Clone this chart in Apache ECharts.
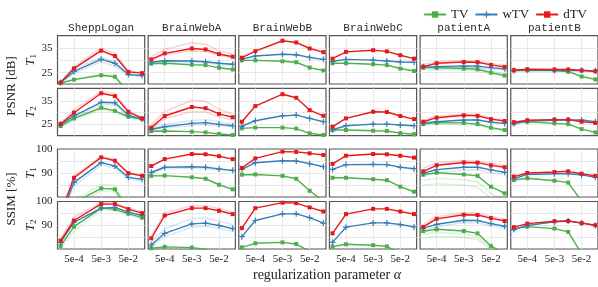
<!DOCTYPE html>
<html><head><meta charset="utf-8">
<script src="https://cdn.jsdelivr.net/npm/echarts@6/dist/echarts.min.js"></script>
<style>html,body{margin:0;padding:0;background:#fff}#c{width:598px;height:287px}</style>
</head><body><div id="c"></div>
<script>
// ---------- data ----------
const datasets = ['SheppLogan', 'BrainWebA', 'BrainWebB', 'BrainWebC', 'patientA', 'patientB'];
const methods = ['TV', 'wTV', 'dTV'];
const alphas = [1.6e-4, 5e-4, 5e-3, 1.6e-2, 5e-2, 1.6e-1];
const xTickAlphas = [5e-4, 5e-3, 5e-2];
const xTickLabels = ['5e-4', '5e-3', '5e-2'];
const xExtentAlphas = [1.23e-4, 0.2];
const psnrGridTicks = [25, 30, 35];
const psnrTickLabels = [25, 35];
const psnrExtent = [20.3, 40.3];
const ssimGridTicks = [85, 90, 95];
const ssimTickLabels = [90, 100];
const ssimExtent = [80, 100];

// PSNR [dB], T1 (one row of 6 values per dataset)
const psnrT1_TV = [
  [20.7, 22.1, 23.9, 23.3, 17.0, 16.0],
  [28.7, 28.9, 28.3, 28.1, 27.0, 26.3],
  [30.1, 30.1, 29.7, 29.3, 27.1, 25.9],
  [28.9, 28.9, 28.5, 28.1, 26.7, 25.7],
  [27.1, 27.0, 26.7, 26.4, 25.0, 23.8],
  [25.9, 26.0, 25.9, 25.4, 23.4, 22.2]];
const psnrT1_wTV = [
  [20.9, 25.5, 30.5, 28.9, 24.2, 23.8],
  [29.3, 29.9, 29.8, 29.5, 28.9, 28.5],
  [30.6, 31.9, 32.6, 32.4, 31.3, 30.5],
  [29.7, 30.5, 30.2, 29.8, 29.4, 29.3],
  [27.4, 27.5, 27.8, 27.7, 27.1, 26.6],
  [25.9, 26.1, 26.0, 25.9, 26.0, 25.7]];
const psnrT1_dTV = [
  [20.9, 26.8, 34.1, 31.9, 25.3, 24.8],
  [30.5, 33.0, 35.0, 34.6, 32.7, 31.6],
  [31.2, 33.9, 38.2, 37.5, 35.0, 33.5],
  [30.8, 33.6, 34.3, 33.8, 32.2, 30.8],
  [27.5, 28.9, 29.4, 29.3, 28.2, 27.4],
  [26.0, 26.4, 26.3, 26.3, 25.9, 25.6]];
// PSNR [dB], T2
const psnrT2_TV = [
  [24.4, 27.6, 32.1, 30.8, 28.3, 27.4],
  [22.2, 22.3, 22.0, 21.7, 21.0, 20.6],
  [23.4, 23.7, 23.7, 23.3, 21.3, 20.6],
  [22.7, 22.7, 22.4, 22.3, 21.4, 20.9],
  [25.2, 25.8, 25.7, 25.2, 23.7, 22.7],
  [25.5, 26.2, 25.5, 25.2, 23.1, 21.7]];
const psnrT2_wTV = [
  [25.1, 28.7, 34.4, 34.2, 29.0, 27.2],
  [23.0, 24.1, 25.5, 25.8, 25.1, 24.5],
  [24.3, 26.6, 28.7, 29.0, 27.6, 26.2],
  [22.8, 24.5, 25.2, 25.2, 24.8, 24.5],
  [25.7, 26.2, 26.9, 26.9, 26.0, 25.5],
  [25.4, 26.5, 26.8, 26.9, 26.9, 26.2]];
const psnrT2_dTV = [
  [25.2, 30.0, 38.2, 37.0, 30.4, 27.6],
  [23.7, 28.6, 32.4, 31.9, 29.5, 28.1],
  [26.2, 32.8, 37.8, 36.3, 31.1, 28.7],
  [24.1, 27.6, 30.4, 30.3, 28.6, 27.3],
  [26.2, 27.9, 28.9, 28.7, 27.3, 26.5],
  [26.0, 26.8, 27.1, 27.1, 26.2, 25.7]];
// SSIM [%], T1
const ssimT1_TV = [
  [70.0, 77.6, 83.6, 83.2, 74.7, 72.0],
  [88.8, 88.9, 88.2, 87.6, 85.1, 83.2],
  [89.3, 89.4, 88.8, 87.6, 82.6, 78.3],
  [88.0, 88.0, 87.4, 87.0, 84.3, 82.2],
  [89.3, 90.1, 89.4, 88.8, 84.3, 81.5],
  [87.1, 87.8, 86.8, 86.0, 78.3, 74.0]];
const ssimT1_wTV = [
  [72.0, 86.1, 94.3, 92.9, 88.2, 87.4],
  [90.3, 92.4, 92.6, 92.4, 91.7, 91.1],
  [91.5, 94.3, 95.1, 95.0, 93.9, 92.6],
  [91.5, 93.5, 93.6, 93.5, 92.4, 91.8],
  [89.9, 91.4, 92.4, 92.4, 91.3, 90.3],
  [87.6, 89.4, 89.7, 89.7, 89.2, 88.2]];
const ssimT1_dTV = [
  [73.0, 88.0, 96.5, 95.1, 89.9, 88.8],
  [92.9, 95.8, 97.9, 97.8, 97.0, 95.8],
  [92.1, 96.1, 98.9, 98.8, 98.2, 97.5],
  [93.8, 97.2, 97.9, 97.8, 97.2, 96.4],
  [90.7, 93.2, 94.4, 94.3, 93.2, 92.4],
  [88.5, 90.0, 90.4, 90.7, 89.7, 88.8]];
// SSIM [%], T2
const ssimT2_TV = [
  [81.3, 89.4, 97.2, 96.8, 94.9, 93.2],
  [80.3, 80.9, 80.6, 79.9, 77.0, 75.0],
  [80.7, 82.4, 82.8, 82.1, 79.0, 77.0],
  [81.0, 82.0, 81.6, 81.1, 78.0, 76.0],
  [87.5, 88.3, 87.6, 86.6, 81.3, 78.0],
  [88.6, 89.4, 88.6, 87.2, 78.0, 74.0]];
const ssimT2_wTV = [
  [82.8, 91.3, 97.2, 97.5, 95.5, 94.1],
  [81.7, 86.6, 90.6, 90.9, 89.9, 88.6],
  [85.2, 92.0, 94.8, 94.8, 93.2, 90.9],
  [82.8, 89.2, 91.0, 91.0, 90.3, 89.3],
  [88.8, 90.4, 92.1, 92.0, 90.7, 89.6],
  [88.2, 89.9, 91.4, 91.8, 91.0, 89.9]];
const ssimT2_dTV = [
  [83.5, 92.0, 99.0, 98.9, 96.8, 95.1],
  [84.5, 94.1, 97.2, 97.2, 96.1, 94.7],
  [88.8, 97.2, 99.5, 99.3, 97.5, 95.8],
  [86.6, 94.7, 96.9, 96.9, 95.8, 94.7],
  [89.3, 92.7, 94.4, 94.3, 93.0, 91.8],
  [89.2, 90.7, 91.7, 91.8, 90.9, 90.0]];

// faint (individual-run) curves, by dataset then method
const psnrT1_faint = {
  SheppLogan: { dTV: [[20.9, 27.5, 35.1, 32.9, 25.8, 25.0]],
                wTV: [[20.6, 24.7, 29.4, 27.7, 24.0, 23.3], [20.9, 26.4, 31.4, 29.6, 24.6, 24.0]],
                TV: [[20.6, 22.3, 24.4, 23.8, 17.0, 16.0]] },
  BrainWebA: { dTV: [[31.6, 34.7, 37.4, 36.7, 34.1, 32.6], [30.0, 32.5, 34.0, 33.8, 32.2, 31.2]],
               wTV: [[29.0, 29.5, 29.3, 29.0, 28.4, 28.0]] },
  patientA: { dTV: [[28.6, 29.5, 30.0, 29.8, 28.8, 27.9]],
              wTV: [[26.9, 27.1, 27.3, 27.2, 26.6, 26.1]],
              TV: [[26.2, 26.3, 26.0, 25.7, 24.3, 23.2], [27.5, 27.6, 27.3, 27.0, 25.6, 24.4]] }
};
const psnrT2_faint = {
  SheppLogan: { dTV: [[25.6, 31.2, 39.0, 37.8, 31.0, 28.0]],
                wTV: [[24.6, 28.0, 33.5, 33.3, 28.5, 26.9]],
                TV: [[23.8, 26.8, 31.4, 30.2, 27.8, 27.0]] },
  BrainWebA: { dTV: [[25.0, 30.5, 35.2, 34.8, 31.5, 29.5], [23.3, 27.5, 30.5, 30.3, 28.3, 27.0]],
               wTV: [[23.5, 25.0, 26.7, 27.0, 26.2, 25.3], [22.7, 23.6, 24.6, 25.0, 24.5, 24.0]] },
  patientA: { dTV: [[26.8, 28.5, 29.4, 29.2, 27.8, 26.9]],
              TV: [[24.6, 25.0, 25.0, 24.6, 23.2, 22.2]] }
};
const ssimT1_faint = {
  SheppLogan: { TV: [[70.0, 78.5, 85.2, 84.8, 75.5, 72.0], [69.0, 76.5, 82.5, 82.0, 73.5, 71.0]],
                wTV: [[71.0, 84.5, 93.3, 92.0, 87.5, 86.8]],
                dTV: [[74.0, 88.8, 97.0, 95.6, 90.3, 89.0]] },
  BrainWebA: { wTV: [[89.8, 91.8, 92.0, 91.8, 91.2, 90.6]] },
  patientA: { dTV: [[92.0, 94.2, 95.2, 95.0, 94.0, 93.0]],
              wTV: [[88.5, 90.2, 91.3, 91.2, 90.2, 89.3]],
              TV: [[87.0, 87.8, 87.2, 86.3, 81.5, 79.0], [85.0, 85.5, 85.0, 84.0, 79.5, 77.0]] }
};
const ssimT2_faint = {
  SheppLogan: { dTV: [[84.5, 93.5, 99.5, 99.3, 97.3, 95.6]],
                TV: [[80.2, 87.5, 96.5, 96.2, 94.3, 92.6]] },
  BrainWebA: { dTV: [[85.5, 95.2, 98.3, 98.2, 97.0, 95.4]],
               wTV: [[83.0, 88.5, 92.8, 93.0, 91.8, 90.2], [81.0, 85.2, 89.2, 89.6, 88.6, 87.4]] },
  patientA: { dTV: [[90.2, 93.6, 95.2, 95.0, 93.8, 92.5]],
              wTV: [[87.8, 89.5, 91.2, 91.0, 89.8, 88.8]],
              TV: [[86.2, 87.0, 86.4, 85.2, 80.5, 78.0], [84.5, 85.3, 85.0, 84.0, 80.0, 78.0]] }
};

// ---------- layout & style ----------
const colors = { TV: '#4daf4a', wTV: '#377eb8', dTV: '#e41a1c' };
const plusPath = 'path://M2,0H3V2H5V3H3V5H2V3H0V2H2Z';
const symbols = { TV: 'rect', wTV: plusPath, dTV: 'rect' };
const symbolSizes = { TV: 4, wTV: 6, dTV: 4 };
const colLeft0 = 57.5, colStep = 90.65, gridW = 87.2;
const rowTop = [35.7, 88.3, 149, 201.5];
const rowH = [48.3, 47.4, 48, 47.5];
const serif = 'Liberation Serif';
const mono = 'Liberation Mono';

const rows = [
  { data: { TV: psnrT1_TV, wTV: psnrT1_wTV, dTV: psnrT1_dTV }, faint: psnrT1_faint, ext: psnrExtent, grid: psnrGridTicks, labels: psnrTickLabels, sub: '1' },
  { data: { TV: psnrT2_TV, wTV: psnrT2_wTV, dTV: psnrT2_dTV }, faint: psnrT2_faint, ext: psnrExtent, grid: psnrGridTicks, labels: psnrTickLabels, sub: '2' },
  { data: { TV: ssimT1_TV, wTV: ssimT1_wTV, dTV: ssimT1_dTV }, faint: ssimT1_faint, ext: ssimExtent, grid: ssimGridTicks, labels: ssimTickLabels, sub: '1' },
  { data: { TV: ssimT2_TV, wTV: ssimT2_wTV, dTV: ssimT2_dTV }, faint: ssimT2_faint, ext: ssimExtent, grid: ssimGridTicks, labels: ssimTickLabels, sub: '2' }
];

const lx = v => Math.log10(v);
const xTickVals = xTickAlphas.map(lx);
function fmtX(v) {
  let best = 0, bd = Infinity;
  xTickVals.forEach((t, i) => { const d = Math.abs(t - v); if (d < bd) { bd = d; best = i; } });
  return xTickLabels[best];
}

const grids = [], xAxes = [], yAxes = [], series = [];
const graphics = [];
rows.forEach((row, r) => {
  datasets.forEach((ds, c) => {
    const k = grids.length;
    const left = colLeft0 + c * colStep;
    grids.push({ left: left, top: rowTop[r], width: gridW, height: rowH[r], show: true,
      borderColor: '#555', borderWidth: 1.2, backgroundColor: 'transparent' });
    xAxes.push({ gridIndex: k, type: 'value', min: lx(xExtentAlphas[0]), max: lx(xExtentAlphas[1]),
      axisLine: { show: false }, axisTick: { show: false, customValues: xTickVals },
      axisLabel: { show: r === 3, customValues: xTickVals, formatter: fmtX, fontFamily: serif, fontSize: 11, color: '#222', margin: 5 },
      splitLine: { show: true, lineStyle: { color: '#e3e3e3', width: 0.8 } } });
    yAxes.push({ gridIndex: k, type: 'value', min: row.ext[0], max: row.ext[1],
      axisLine: { show: false }, axisTick: { show: false, customValues: row.grid },
      axisLabel: { show: c === 0, customValues: row.labels, fontFamily: serif, fontSize: 11, color: '#222', margin: 5 },
      splitLine: { show: true, lineStyle: { color: '#e3e3e3', width: 0.8 } } });
    const fp = row.faint[ds] || {};
    methods.forEach(m => {
      (fp[m] || []).forEach(vals => {
        series.push({ type: 'line', name: m + ' (runs)', xAxisIndex: k, yAxisIndex: k,
          data: alphas.map((a, i) => [lx(a), vals[i]]), showSymbol: false, symbol: 'none',
          lineStyle: { color: colors[m], width: 1.6, opacity: 0.18 }, z: 1,
          clip: true, silent: true, animation: false });
      });
    });
    methods.forEach(m => {
      const vals = row.data[m][c];
      series.push({ type: 'line', name: m, xAxisIndex: k, yAxisIndex: k,
        data: alphas.map((a, i) => [lx(a), vals[i]]),
        symbol: symbols[m], symbolSize: symbolSizes[m], showAllSymbol: true,
        lineStyle: { color: colors[m], width: 1.4 }, itemStyle: { color: colors[m] }, z: 3,
        clip: true, silent: true, animation: false });
    });
    if (r === 0) {
      graphics.push({ type: 'text', x: left + gridW / 2, y: 27.7,
        style: { text: ds, fill: '#2a2a2a', font: '11px "' + mono + '"', align: 'center', verticalAlign: 'middle' } });
    }
  });
  graphics.push({ type: 'text', x: 31, y: rowTop[r] + rowH[r] / 2, rotation: Math.PI / 2,
    style: { text: '{i|T}{s|' + row.sub + '}', align: 'center', verticalAlign: 'middle', fill: '#222',
      rich: { i: { fontFamily: serif, fontStyle: 'italic', fontSize: 13, fill: '#222', lineHeight: 14 },
              s: { fontFamily: serif, fontSize: 9, fill: '#222', verticalAlign: 'bottom', lineHeight: 9 } } } });
});
graphics.push({ type: 'text', x: 12, y: 86, rotation: Math.PI / 2,
  style: { text: 'PSNR [dB]', fill: '#222', font: '13px "' + serif + '"', align: 'center', verticalAlign: 'middle' } });
graphics.push({ type: 'text', x: 12, y: 199, rotation: Math.PI / 2,
  style: { text: 'SSIM [%]', fill: '#222', font: '13px "' + serif + '"', align: 'center', verticalAlign: 'middle' } });
graphics.push({ type: 'text', x: 327, y: 275.5,
  style: { text: '{n|regularization parameter }{a|α}', fill: '#222', align: 'center', verticalAlign: 'middle',
    rich: { n: { fontFamily: serif, fontSize: 14, fill: '#222' },
            a: { fontFamily: serif, fontSize: 14, fontStyle: 'italic', fill: '#222' } } } });

const chart = echarts.init(document.getElementById('c'), null, { renderer: 'canvas' });
chart.setOption({
  animation: false,
  backgroundColor: '#fff',
  grid: grids, xAxis: xAxes, yAxis: yAxes, series: series,
  legend: { data: methods, right: 6, top: 3, itemWidth: 22, itemHeight: 8, itemGap: 6,
    textStyle: { fontFamily: serif, fontSize: 13, color: '#222' } },
  graphic: graphics
});
</script></body></html>
